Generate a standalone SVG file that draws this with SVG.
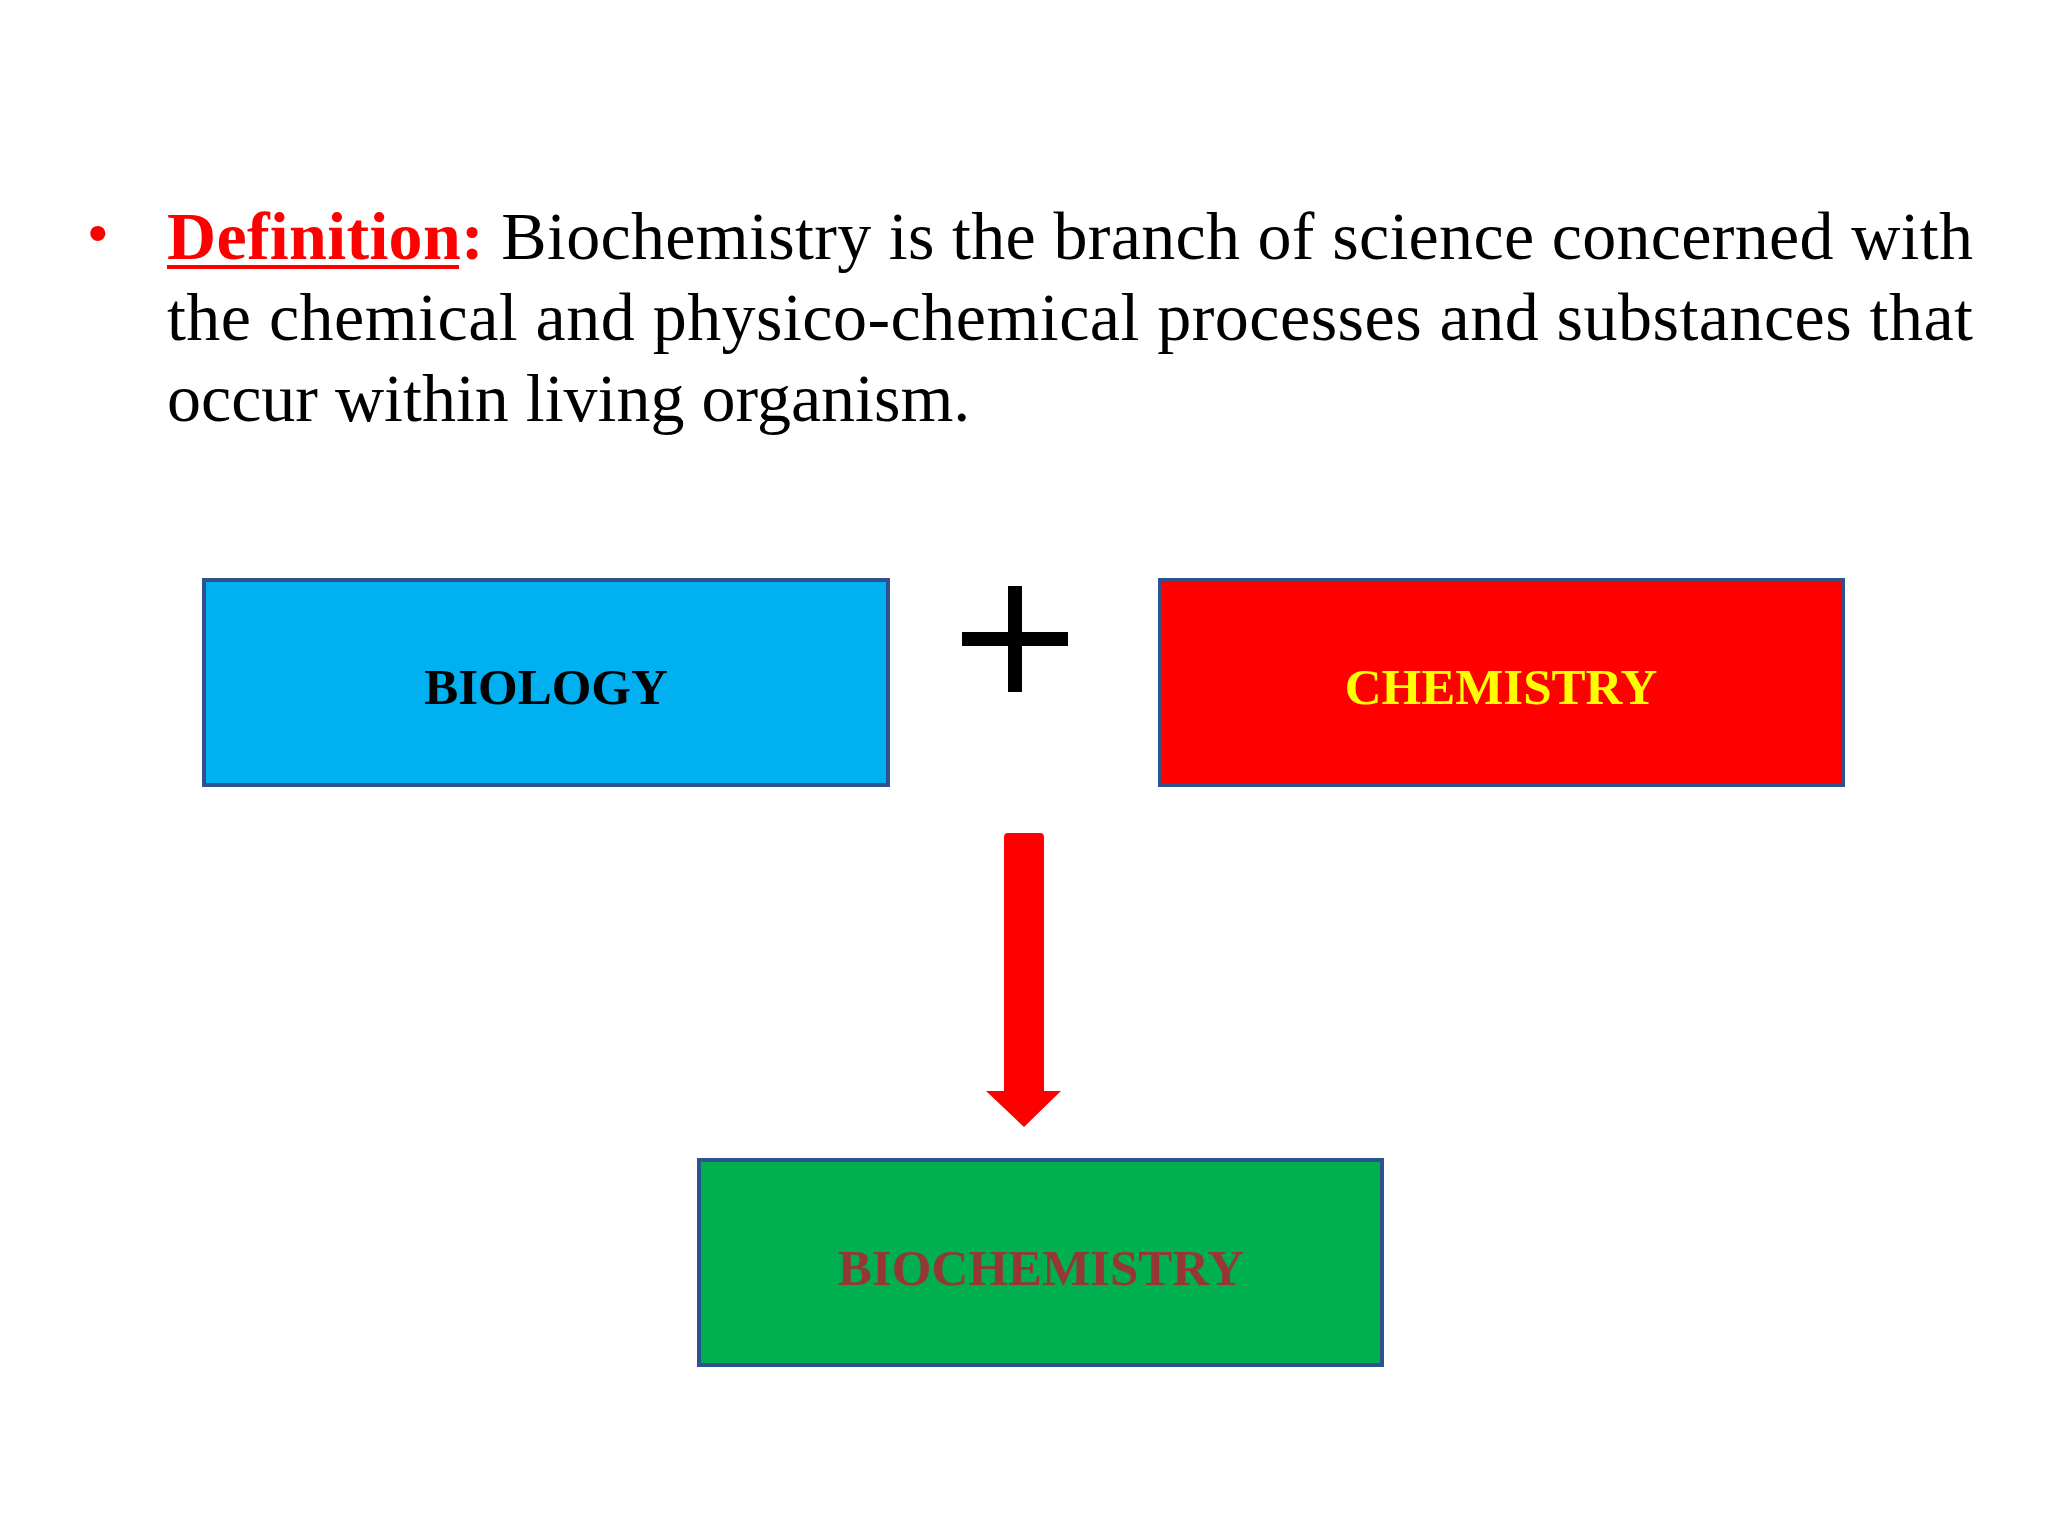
<svg xmlns="http://www.w3.org/2000/svg" width="2048" height="1536" viewBox="0 0 2048 1536">
<style>
.t{font-family:"Liberation Serif","Times New Roman",serif;font-size:68px;fill:#000}
.box{stroke:#2F528F;stroke-width:4}
.lbl{font-family:"Liberation Serif","Times New Roman",serif;font-size:51px;font-weight:bold;text-anchor:middle}
</style>
<rect width="2048" height="1536" fill="#fff"/>
<g id="definition">
<text x="88" y="252" style="fill:#FF0000;font-family:'Liberation Sans',Arial,sans-serif;font-size:56px">•</text>
<text x="167" y="259" class="t" textLength="1806" lengthAdjust="spacing"><tspan font-weight="bold" fill="#FF0000">Definition:</tspan> Biochemistry is the branch of science concerned with</text>
<rect x="167" y="265" width="292" height="4" fill="#FF0000"/>
<text x="167" y="340" class="t" textLength="1806" lengthAdjust="spacing">the chemical and physico-chemical processes and substances that</text>
<text x="167" y="421" class="t">occur within living organism.</text>
</g>
<g id="biology">
<rect x="204" y="580" width="684" height="205" fill="#00B0F0" class="box"/>
<text x="546" y="704" class="lbl" fill="#000">BIOLOGY</text>
</g>
<g id="plus">
<rect x="962" y="632" width="106" height="14" fill="#000"/>
<rect x="1008" y="586" width="14" height="106" fill="#000"/>
</g>
<g id="chemistry">
<rect x="1160" y="580" width="683" height="205" fill="#FF0000" class="box"/>
<text x="1501" y="704" class="lbl" fill="#FFFF00">CHEMISTRY</text>
</g>
<g id="biochemistry">
<rect x="699" y="1160" width="683" height="205" fill="#00B050" class="box"/>
<text x="1041" y="1285" class="lbl" fill="#953735">BIOCHEMISTRY</text>
</g>
<g id="connectors">
<path d="M1008,833 H1040 Q1044,833 1044,837 V1091 H1061 L1024,1127 L986,1091 H1004 V837 Q1004,833 1008,833 Z" fill="#FF0000"/>
</g>
</svg>
